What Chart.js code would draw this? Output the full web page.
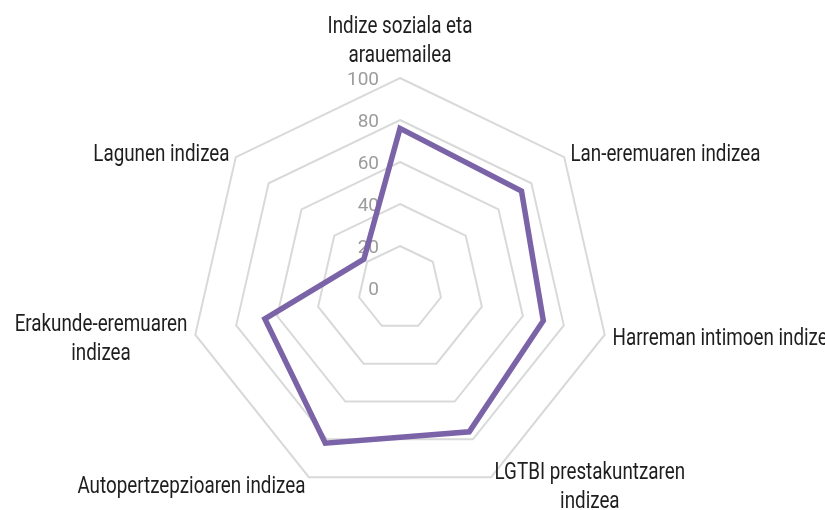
<!DOCTYPE html>
<html>
<head>
<meta charset="utf-8">
<script src="https://cdn.jsdelivr.net/npm/chart.js@4"></script>
<style>
  html, body { margin: 0; padding: 0; background: #ffffff; }
  canvas { display: block; }
</style>
</head>
<body>
<canvas id="radar" width="825" height="510"></canvas>
<script>
// ================================ DATUAK ================================ //

const categories = [
  ["Indize soziala eta", "arauemailea"],
  "Lan-eremuaren indizea",
  "Harreman intimoen indizea",
  ["LGTBI prestakuntzaren", "indizea"],
  "Autopertzepzioaren indizea",
  ["Erakunde-eremuaren", "indizea"],
  "Lagunen indizea",
];

const values = [76, 74, 70, 76, 82, 66, 22];

const tickValues = [0, 20, 40, 60, 80, 100];

// ================================ ESTILOA =============================== //

const labelFont = '23px Roboto, "Liberation Sans", sans-serif';
const tickFont = '19px Roboto, "Liberation Sans", sans-serif';
const lineH = 29;
// narrow look for the category names: squeeze the font horizontally
const squeezeRef = { text: "Autopertzepzioaren indizea", width: 228 };

// tick numbers go under the line, category names on top
const radarText = {
  id: "radarText",
  beforeDatasetsDraw(chart) {
    const scale = chart.scales.r;
    const ctx = chart.ctx;
    ctx.save();
    ctx.font = tickFont;
    ctx.fillStyle = "#9c9c9c";
    ctx.textAlign = "right";
    ctx.textBaseline = "middle";
    tickValues.forEach((v) => {
      const p = scale.getPointPositionForValue(0, v);
      ctx.fillText(String(v), p.x - 21, p.y + 2);
    });
    ctx.restore();
  },
  afterDatasetsDraw(chart) {
    const scale = chart.scales.r;
    const ctx = chart.ctx;
    ctx.save();
    ctx.font = labelFont;
    ctx.fillStyle = "#1e1e1e";
    ctx.textAlign = "center";
    ctx.textBaseline = "middle";
    const sx = squeezeRef.width / ctx.measureText(squeezeRef.text).width;
    categories.forEach((label, i) => {
      const lines = Array.isArray(label) ? label : [label];
      const pad = i === 0 ? 10 : 8;
      const p = scale.getPointPosition(i, scale.drawingArea + pad);
      const w = sx * Math.max(...lines.map((l) => ctx.measureText(l).width));
      const dx = p.x - scale.xCenter;
      let cx = p.x;
      if (dx > 1) cx = p.x + w / 2;
      else if (dx < -1) cx = p.x - w / 2;
      const blockH = lines.length * lineH;
      const top = (i === 0 ? p.y - blockH : p.y - blockH / 2) + 3;
      lines.forEach((l, k) => {
        ctx.save();
        ctx.translate(cx, top + lineH * (k + 0.5));
        ctx.scale(sx, 1);
        ctx.fillText(l, 0, 0);
        ctx.restore();
      });
    });
    ctx.restore();
  },
};

const data = {
  labels: categories,
  datasets: [
    {
      label: "Indizea",
      data: values,
      borderColor: "rgb(123, 99, 168)",
      backgroundColor: "rgba(123, 99, 168, 0)",
      borderWidth: 5.5,
      pointRadius: 0,
      pointHoverRadius: 0,
      fill: false,
      tension: 0,
    },
  ],
};

const config = {
  type: "radar",
  data: data,
  options: {
    responsive: false,
    animation: false,
    layout: { padding: { top: 78, bottom: 12, left: 0, right: 25 } },
    plugins: {
      legend: { display: false },
      tooltip: { enabled: false },
    },
    scales: {
      r: {
        min: 0,
        max: 100,
        ticks: { stepSize: 20, display: false },
        pointLabels: { display: false },
        angleLines: { display: false },
        grid: { color: "#d9d9d9", lineWidth: 2 },
      },
    },
  },
  plugins: [radarText],
};

const radar = new Chart(document.getElementById("radar"), config);
</script>
</body>
</html>
